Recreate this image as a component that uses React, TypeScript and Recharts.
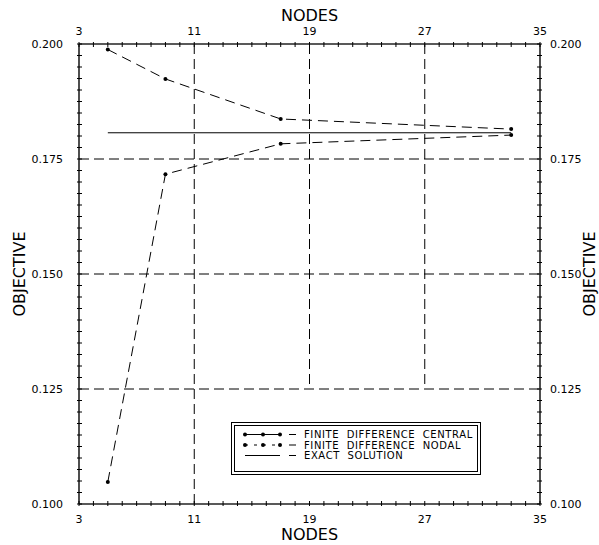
import { ComposedChart, Line, XAxis, YAxis, ReferenceLine } from 'recharts'

const NODES = [5, 9, 17, 33]
const CENTRAL = [0.1988, 0.1924, 0.1837, 0.1815]
const NODAL = [0.1048, 0.1717, 0.1783, 0.1802]
const EXACT = [0.1807, null, null, 0.1807]

const X_MAJOR = [3, 11, 19, 27, 35]
const Y_MAJOR = [0.1, 0.125, 0.15, 0.175, 0.2]
const X_GRID_FULL = [11]
const X_GRID_SHORT = [19, 27]
const Y_GRID = [0.175, 0.15, 0.125]

// minor ticks: every node on x, every 0.0025 on y
const X_TICKS = Array.from({ length: 33 }, (_, i) => 3 + i)
const Y_TICKS = Array.from({ length: 41 }, (_, i) => Math.round((0.1 + i * 0.0025) * 10000) / 10000)

const LEGEND = [
  { label: 'FINITE  DIFFERENCE  CENTRAL', kind: 'central' },
  { label: 'FINITE  DIFFERENCE  NODAL', kind: 'nodal' },
  { label: 'EXACT  SOLUTION', kind: 'exact' },
]

const FONT = '"DejaVu Sans", sans-serif'
const AXIS = { stroke: '#222', strokeWidth: 1.6 }

const data = NODES.map((x, i) => ({
  x,
  central: CENTRAL[i],
  nodal: NODAL[i],
  exact: EXACT[i],
}))

const isMajorX = (v: number) => X_MAJOR.includes(v)
const isMajorY = (v: number) => Y_MAJOR.some(m => Math.abs(m - v) < 1e-6)

function BottomTick(props: any) {
  const x = Number(props.x), y = Number(props.y), v = props.payload.value
  return (
    <g>
      <line x1={x} y1={y} x2={x} y2={y - 5} stroke="#000" />
      {isMajorX(v) && (
        <text x={x} y={y + 17} textAnchor="middle" fontSize={11} fontFamily={FONT} fill="#000">
          {v}
        </text>
      )}
    </g>
  )
}

function TopTick(props: any) {
  const x = Number(props.x), y = Number(props.y), v = props.payload.value
  return (
    <g>
      <line x1={x} y1={y} x2={x} y2={y + 5} stroke="#000" />
      {isMajorX(v) && (
        <text x={x} y={y - 7} textAnchor="middle" fontSize={11} fontFamily={FONT} fill="#000">
          {v}
        </text>
      )}
    </g>
  )
}

function LeftTick(props: any) {
  const x = Number(props.x), y = Number(props.y), v = props.payload.value
  return (
    <g>
      <line x1={x} y1={y} x2={x + 5} y2={y} stroke="#000" />
      {isMajorY(v) && (
        <text x={x - 14} y={y + 4} textAnchor="end" fontSize={11} fontFamily={FONT} fill="#000">
          {v.toFixed(3)}
        </text>
      )}
    </g>
  )
}

function RightTick(props: any) {
  const x = Number(props.x), y = Number(props.y), v = props.payload.value
  return (
    <g>
      <line x1={x} y1={y} x2={x - 5} y2={y} stroke="#000" />
      {isMajorY(v) && (
        <text x={x + 8} y={y + 4} textAnchor="start" fontSize={11} fontFamily={FONT} fill="#000">
          {v.toFixed(3)}
        </text>
      )}
    </g>
  )
}

function LegendBox() {
  return (
    <svg width={252} height={56} style={{ position: 'absolute', left: 230, top: 421 }}>
      <rect x={1.5} y={1.5} width={249} height={52} fill="#fff" stroke="#000" />
      <rect x={4.5} y={4.5} width={243} height={46} fill="none" stroke="#000" />
      {LEGEND.map((item, i) => {
        const cy = 13.5 + i * 10.5
        return (
          <g key={item.kind}>
            {item.kind === 'exact' ? (
              <line x1={15} y1={cy} x2={50} y2={cy} stroke="#000" />
            ) : (
              <g>
                <line
                  x1={15}
                  y1={cy}
                  x2={50}
                  y2={cy}
                  stroke="#000"
                  strokeDasharray={item.kind === 'nodal' ? '3 6' : undefined}
                />
                {[15, 33, 50].map(cx => (
                  <circle key={cx} cx={cx} cy={cy} r={2} fill="#000" />
                ))}
              </g>
            )}
            <line x1={59} y1={cy} x2={66} y2={cy} stroke="#000" />
            <text
              x={74}
              y={cy + 3.7}
              fontSize={10}
              letterSpacing={0.6}
              fontFamily={FONT}
              fill="#000"
              style={{ whiteSpace: 'pre' }}
            >
              {item.label}
            </text>
          </g>
        )
      })}
    </svg>
  )
}

export default function App() {
  return (
    <div style={{ position: 'absolute', left: 0, top: 0, width: 599, height: 545, background: '#fff' }}>
      <ComposedChart width={599} height={545} data={data} margin={{ top: 0, right: 0, bottom: 0, left: 0 }}>
        <XAxis
          xAxisId="bottom"
          dataKey="x"
          type="number"
          domain={[3, 35]}
          ticks={X_TICKS}
          interval={0}
          height={41}
          tickSize={0}
          tickLine={false}
          tick={<BottomTick />}
          axisLine={AXIS}
          label={{ value: 'NODES', position: 'insideBottom', offset: 5, fontSize: 16, fontFamily: FONT, fill: '#000' }}
        />
        <XAxis
          xAxisId="top"
          orientation="top"
          dataKey="x"
          type="number"
          domain={[3, 35]}
          ticks={X_TICKS}
          interval={0}
          height={44}
          tickSize={0}
          tickLine={false}
          tick={<TopTick />}
          axisLine={AXIS}
          label={{ value: 'NODES', position: 'insideTop', offset: 10, fontSize: 16, fontFamily: FONT, fill: '#000' }}
        />
        <YAxis
          yAxisId="left"
          type="number"
          domain={[0.1, 0.2]}
          allowDataOverflow
          ticks={Y_TICKS}
          interval={0}
          width={79}
          tickSize={0}
          tickLine={false}
          tick={<LeftTick />}
          axisLine={AXIS}
          label={{
            value: 'OBJECTIVE',
            angle: -90,
            position: 'insideLeft',
            offset: 19,
            fontSize: 16,
            fontFamily: FONT,
            fill: '#000',
            style: { textAnchor: 'middle' },
          }}
        />
        <YAxis
          yAxisId="right"
          orientation="right"
          dataKey="central"
          type="number"
          domain={[0.1, 0.2]}
          allowDataOverflow
          ticks={Y_TICKS}
          interval={0}
          width={59}
          tickSize={0}
          tickLine={false}
          tick={<RightTick />}
          axisLine={AXIS}
          label={{
            value: 'OBJECTIVE',
            angle: -90,
            position: 'insideRight',
            offset: 10,
            fontSize: 16,
            fontFamily: FONT,
            fill: '#000',
            style: { textAnchor: 'middle' },
          }}
        />

        {Y_GRID.map(v => (
          <ReferenceLine key={`y-${v}`} xAxisId="bottom" yAxisId="left" y={v} stroke="#000" strokeDasharray="10 5" />
        ))}
        {X_GRID_FULL.map(v => (
          <ReferenceLine key={`x-${v}`} xAxisId="bottom" yAxisId="left" x={v} stroke="#000" strokeDasharray="10 5" />
        ))}
        {X_GRID_SHORT.map(v => (
          <ReferenceLine
            key={`xs-${v}`}
            xAxisId="bottom"
            yAxisId="left"
            segment={[{ x: v, y: 0.2 }, { x: v, y: 0.125 }]}
            stroke="#000"
            strokeDasharray="10 5"
          />
        ))}

        <Line
          xAxisId="bottom"
          yAxisId="left"
          dataKey="central"
          type="linear"
          stroke="#000"
          strokeDasharray="10 6"
          dot={{ r: 2, fill: '#000', strokeWidth: 0 }}
          isAnimationActive={false}
        />
        <Line
          xAxisId="bottom"
          yAxisId="left"
          dataKey="nodal"
          type="linear"
          stroke="#000"
          strokeDasharray="10 6"
          dot={{ r: 2, fill: '#000', strokeWidth: 0 }}
          isAnimationActive={false}
        />
        <Line
          xAxisId="top"
          yAxisId="right"
          dataKey="exact"
          type="linear"
          stroke="#000"
          connectNulls
          dot={false}
          isAnimationActive={false}
        />
      </ComposedChart>
      <LegendBox />
    </div>
  )
}
